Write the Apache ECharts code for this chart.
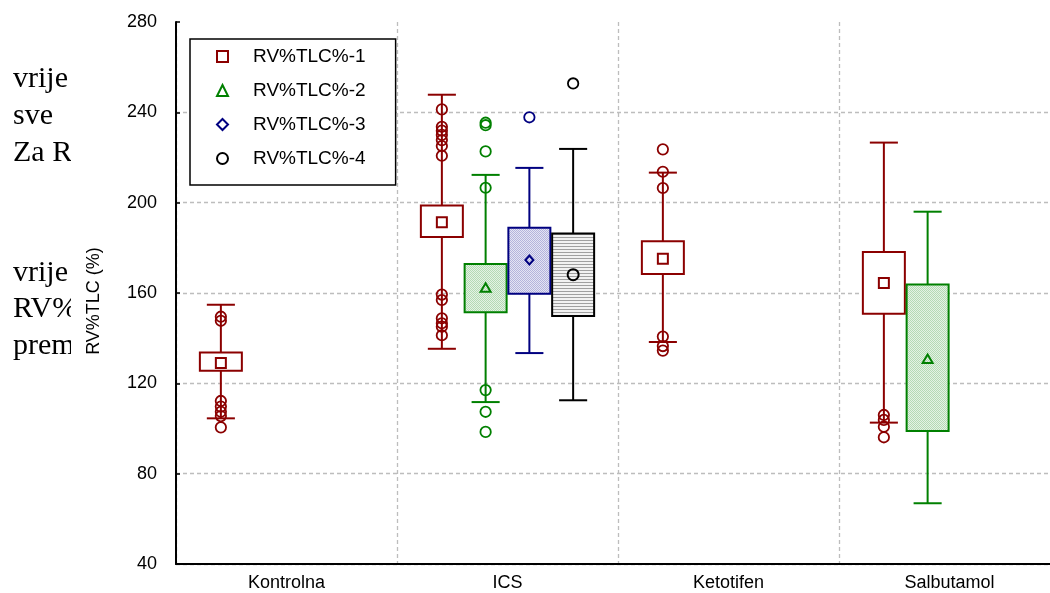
<!DOCTYPE html>
<html>
<head>
<meta charset="utf-8">
<script src="https://cdn.jsdelivr.net/npm/echarts@6/dist/echarts.min.js"></script>
<style>
html,body{margin:0;padding:0;background:#fff;}
#chart{width:1050px;height:593px;}
</style>
</head>
<body>
<div id="chart"></div>
<script>
// ---------------- data ----------------
const categories = ['Kontrolna', 'ICS', 'Ketotifen', 'Salbutamol'];
const seriesNames = ['RV%TLC%-1', 'RV%TLC%-2', 'RV%TLC%-3', 'RV%TLC%-4'];
const yTicks = [40, 80, 120, 160, 200, 240, 280];
const sideText = ['vrije', 'sve', 'Za R', 'vrije', 'RV%', 'prem'];

// [category index, whisker low, Q1 (25%), median, Q3 (75%), whisker high]
const box1 = [
  [0, 104.5, 125.6, 129.0, 133.7, 154.8],
  [1, 135.3, 184.8, 191.3, 198.8, 247.8],
  [2, 138.3, 168.4, 175.2, 182.9, 213.3],
  [3, 102.6, 150.8, 164.4, 178.2, 226.6]
];
const box2 = [
  [1, 111.7, 151.5, 162.1, 172.8, 212.3],
  [3, 66.9, 98.9, 130.6, 163.8, 196.0]
];
const box3 = [
  [1, 133.4, 159.7, 174.6, 188.9, 215.4]
];
const box4 = [
  [1, 112.5, 149.8, 168.1, 186.3, 223.8]
];

// outliers: [category index, value]
const out1 = [
  [0, 149.5], [0, 147.7], [0, 112.2], [0, 109.7], [0, 107.4], [0, 105.5], [0, 100.5],
  [1, 241.3], [1, 233.6], [1, 231.9], [1, 230.0], [1, 227.7], [1, 225.1], [1, 220.8],
  [1, 159.3], [1, 156.9], [1, 148.8], [1, 146.6], [1, 145.1], [1, 141.3],
  [2, 223.6], [2, 213.7], [2, 206.5], [2, 140.7], [2, 136.5], [2, 134.5],
  [3, 106.0], [3, 103.8], [3, 100.8], [3, 96.1]
];
const out2 = [
  [1, 235.4], [1, 234.3], [1, 222.7], [1, 206.6], [1, 117.0], [1, 107.4], [1, 98.5]
];
const out3 = [
  [1, 237.8]
];
const out4 = [
  [1, 252.8]
];

// ---------------- styling ----------------
const boxes = [box1, box2, box3, box4];
const outs = [out1, out2, out3, out4];
const colors = ['#8B0000', '#008000', '#000080', '#000000'];
const markers = ['square', 'triangle', 'diamond', 'circle'];
const legendIcons = ['rect', 'triangle', 'diamond', 'circle'];
const SLOT = [-0.297, -0.099, 0.099, 0.297];

function makePattern(bg, fg, kind) {
  const c = document.createElement('canvas');
  if (kind === 'stripes') {
    c.width = 4; c.height = 3;
    const g = c.getContext('2d');
    g.fillStyle = bg; g.fillRect(0, 0, 4, 3);
    g.fillStyle = fg; g.fillRect(0, 0, 4, 1);
  } else {
    c.width = 2; c.height = 2;
    const g = c.getContext('2d');
    g.fillStyle = bg; g.fillRect(0, 0, 2, 2);
    g.fillStyle = fg; g.fillRect(0, 0, 1, 1); g.fillRect(1, 1, 1, 1);
  }
  return { image: c, repeat: 'repeat' };
}
const fills = [
  '#ffffff',
  makePattern('#e4f2e4', '#b4dab4', 'dots'),
  makePattern('#e4e4f4', '#b4b4dc', 'dots'),
  makePattern('#f2f2f2', '#a0a0a0', 'stripes')
];

function markerShape(kind, x, y, color) {
  const st = { fill: 'none', stroke: color, lineWidth: 2 };
  if (kind === 'square') return { type: 'rect', shape: { x: x - 5, y: y - 5, width: 10, height: 10 }, style: st };
  if (kind === 'triangle') return { type: 'polygon', shape: { points: [[x, y - 5], [x + 5, y + 3.5], [x - 5, y + 3.5]] }, style: st };
  if (kind === 'diamond') return { type: 'polygon', shape: { points: [[x, y - 4.5], [x + 4, y], [x, y + 4.5], [x - 4, y]] }, style: st };
  return { type: 'circle', shape: { cx: x, cy: y, r: 5.5 }, style: st };
}

function boxRenderer(k) {
  return function (params, api) {
    const cat = api.value(0);
    const band = api.size([1, 0])[0];
    const cx = api.coord([cat, 100])[0] + SLOT[k] * band;
    const py = i => api.coord([cat, api.value(i)])[1];
    const lo = py(1), q1 = py(2), med = py(3), q3 = py(4), hi = py(5);
    const bw = band * 0.19, cw = band * 0.127;
    const ls = { stroke: colors[k], lineWidth: 2 };
    return {
      type: 'group',
      children: [
        { type: 'line', shape: { x1: cx, y1: hi, x2: cx, y2: q3 }, style: ls },
        { type: 'line', shape: { x1: cx, y1: q1, x2: cx, y2: lo }, style: ls },
        { type: 'line', shape: { x1: cx - cw / 2, y1: hi, x2: cx + cw / 2, y2: hi }, style: ls },
        { type: 'line', shape: { x1: cx - cw / 2, y1: lo, x2: cx + cw / 2, y2: lo }, style: ls },
        { type: 'rect', shape: { x: cx - bw / 2, y: q3, width: bw, height: q1 - q3 },
          style: { fill: fills[k], stroke: colors[k], lineWidth: 2 } },
        markerShape(markers[k], cx, med, colors[k])
      ]
    };
  };
}

function outlierRenderer(k) {
  return function (params, api) {
    const cat = api.value(0);
    const band = api.size([1, 0])[0];
    const p = api.coord([cat, api.value(1)]);
    return {
      type: 'circle',
      shape: { cx: p[0] + SLOT[k] * band, cy: p[1], r: 5.2 },
      style: { fill: 'none', stroke: colors[k], lineWidth: 1.8 }
    };
  };
}

const series = [];
for (let k = 0; k < 4; k++) {
  series.push({
    type: 'custom', name: seriesNames[k], data: boxes[k], color: colors[k],
    encode: { x: 0, y: [1, 2, 3, 4, 5] }, renderItem: boxRenderer(k), z: 2
  });
  series.push({
    type: 'custom', name: seriesNames[k], data: outs[k], color: colors[k],
    encode: { x: 0, y: 1 }, renderItem: outlierRenderer(k), z: 3
  });
}

const baselines = [88, 125, 162, 282, 318, 355];
const graphics = sideText.map((t, i) => ({
  type: 'text', left: 13, top: baselines[i] - 24, z: 1,
  style: { text: t, font: '30px "Liberation Serif"', fill: '#000' }
}));
graphics.push({ type: 'rect', shape: { x: 71, y: 50, width: 11, height: 320 }, style: { fill: '#fff' }, z: 2 });

const chart = echarts.init(document.getElementById('chart'), null, { renderer: 'canvas' });
chart.setOption({
  animation: false,
  backgroundColor: '#fff',
  textStyle: { fontFamily: 'Liberation Sans' },
  grid: { left: 176, top: 22, bottom: 29, width: 884, containLabel: false, outerBoundsMode: 'none' },
  legend: {
    orient: 'vertical', left: 190, top: 39,
    padding: [8, 30, 17, 26],
    itemGap: 15, itemWidth: 11, itemHeight: 11,
    borderColor: '#000', borderWidth: 1.5, backgroundColor: '#fff',
    textStyle: { fontSize: 19, color: '#000', fontFamily: 'Liberation Sans', padding: [0, 0, 0, 20] },
    selectedMode: false,
    data: seriesNames.map((n, k) => ({
      name: n, icon: legendIcons[k],
      itemStyle: { color: 'rgba(0,0,0,0)', borderColor: colors[k], borderWidth: 2 }
    }))
  },
  xAxis: {
    type: 'category', data: categories, boundaryGap: true,
    axisLine: { lineStyle: { color: '#000', width: 2 } },
    axisTick: { show: false },
    axisLabel: { color: '#000', fontSize: 18, margin: 10, fontFamily: 'Liberation Sans' },
    splitLine: { show: true, interval: 0, lineStyle: { color: '#bdbdbd', type: [4, 3], width: 1.3 } }
  },
  yAxis: {
    type: 'value', min: yTicks[0], max: yTicks[yTicks.length - 1], interval: 40,
    name: 'RV%TLC (%)', nameLocation: 'middle', nameGap: 73, nameRotate: 90,
    nameTextStyle: { fontSize: 18, color: '#000', fontFamily: 'Liberation Sans', padding: [0, 16, 0, 0] },
    axisLine: { show: true, lineStyle: { color: '#000', width: 2 } },
    axisTick: { show: true, inside: true, length: 4, lineStyle: { color: '#000', width: 1.5 } },
    axisLabel: { color: '#000', fontSize: 18, margin: 19, fontFamily: 'Liberation Sans' },
    splitLine: { show: true, showMaxLine: false, lineStyle: { color: '#bdbdbd', type: [4, 3], width: 1.3 } }
  },
  graphic: graphics,
  series: series
});
</script>
</body>
</html>
